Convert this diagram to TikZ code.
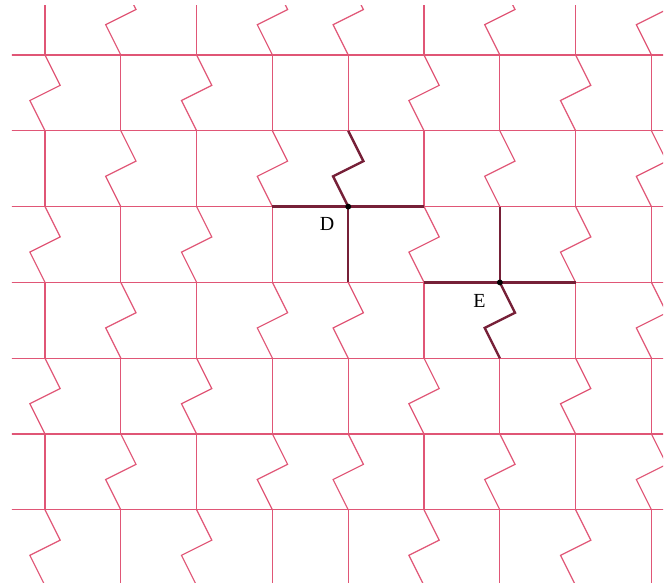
\documentclass[tikz,border=0pt]{standalone}
\usepackage{fontspec}
\setmainfont{Liberation Serif}

\definecolor{gridred}{RGB}{224,86,118}
\definecolor{routered}{RGB}{118,32,56}

\tikzset{
  gridline/.style={gridred, line width=0.45pt},
  routeline/.style={routered, line width=0.9pt, line join=miter},
  tagfont/.style={font=\fontsize{7.5}{8}\selectfont}
}

% one zigzag cell of a column: top point #1, one unit down
\newcommand\zigcell[2][]{%
  \draw[#1] #2 -- ++(0.2,-0.4) -- ++(-0.4,-0.2) -- ++(0.2,-0.4);}

\begin{document}
\begin{tikzpicture}
  \useasboundingbox (0,0) rectangle (8.865,7.678);

  \begin{scope}[shift={(0.594,6.952)}]
    \clip (-0.436,0.647) rectangle (8.153,-7.0);

    % Horizontal lines
    \foreach \j in {0,...,6}
      \draw[gridline] (-0.5,-\j) -- (8.5,-\j);

    % Vertical columns, zigzag every other cell
    \foreach \i/\p in {0/0,1/1,2/0,3/1,4/1,5/0,6/1,7/0,8/1} {
      \foreach \k in {-1,...,6} {
        \pgfmathtruncatemacro\ytop{-\k}
        \pgfmathtruncatemacro\bandpar{mod(\k+2,2)}
        \ifnum\bandpar=\p
          \zigcell[gridline]{(\i,\ytop)}
        \else
          \draw[gridline] (\i,\ytop) -- ++(0,-1);
        \fi
      }
    }

    % Points D and E
    \coordinate (D) at (4,-2);
    \coordinate (E) at (6,-3);

    % Edges at D
    \zigcell[routeline]{(4,-1)}
    \draw[routeline] (3,-2) -- (D) -- (5,-2);
    \draw[routeline] (D) -- (4,-3);

    % Edges at E
    \draw[routeline] (6,-2) -- (E);
    \draw[routeline] (5,-3) -- (E) -- (7,-3);
    \zigcell[routeline]{(E)}

    \fill (D) circle (1.1pt);
    \fill (E) circle (1.1pt);

    \node[tagfont] (labD) at ([shift={(-0.28,-0.23)}]D) {D};
    \node[tagfont] (labE) at ([shift={(-0.27,-0.24)}]E) {E};
  \end{scope}
\end{tikzpicture}
\end{document}
